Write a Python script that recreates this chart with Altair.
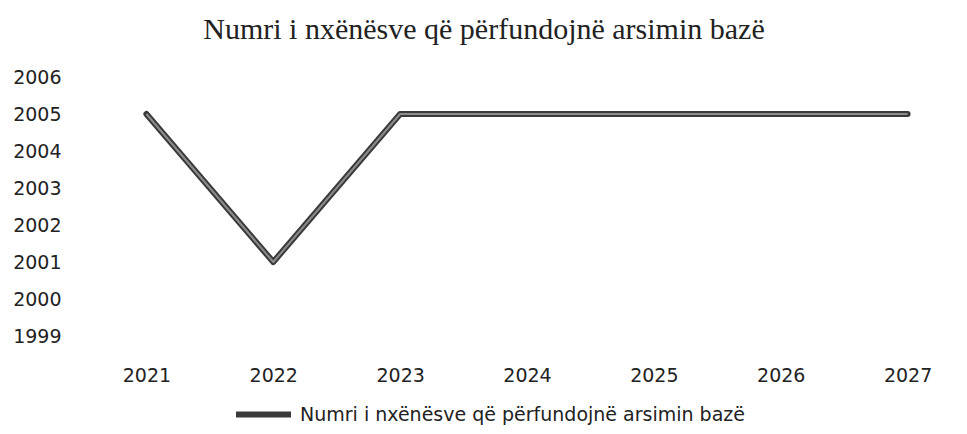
import altair as alt
import pandas as pd

years = ["2021", "2022", "2023", "2024", "2025", "2026", "2027"]
values = [2005, 2001, 2005, 2005, 2005, 2005, 2005]
series = "Numri i nxënësve që përfundojnë arsimin bazë"
title_text = "Numri i nxënësve që përfundojnë arsimin bazë"
y_ticks = [1999, 2000, 2001, 2002, 2003, 2004, 2005, 2006]

df = pd.DataFrame({"year": years, "value": values, "series": [series] * len(years)})

x_enc = alt.X(
    "year:O",
    sort=years,
    title=None,
    scale=alt.Scale(type="point", padding=0.35),
    axis=alt.Axis(labelAngle=0, domain=False, ticks=False, grid=False,
                  labelPadding=30, labelFontSize=19, labelFont="DejaVu Sans",
                  labelColor="#222222", labelOverlap=False),
)
y_enc = alt.Y(
    "value:Q",
    title=None,
    scale=alt.Scale(domain=[1999, 2006], nice=False, zero=False),
    axis=alt.Axis(values=y_ticks, format="d", domain=False, ticks=False, grid=False,
                  labelPadding=41, labelFontSize=19, labelFont="DejaVu Sans",
                  labelColor="#222222", labelOverlap=False, tickCount=8),
)

outer = alt.Chart(df).mark_line(strokeWidth=6, strokeCap="round", strokeJoin="round").encode(
    x=x_enc,
    y=y_enc,
    color=alt.Color(
        "series:N",
        scale=alt.Scale(range=["#3a3a3a"]),
        legend=alt.Legend(
            title=None, orient="none", legendX=131, legendY=307,
            symbolType="stroke", symbolSize=3025, symbolStrokeWidth=6,
            labelFontSize=19, labelFont="DejaVu Sans", labelColor="#222222",
            labelOffset=6, labelLimit=800, padding=0,
        ),
    ),
)
inner = alt.Chart(df).mark_line(strokeWidth=2, color="#8c8c8c", strokeJoin="round").encode(
    x=x_enc,
    y=y_enc,
)

chart = (
    alt.layer(outer, inner)
    .properties(
        width=850,
        height=259,
        autosize=alt.AutoSizeParams(type="none"),
        padding={"left": 94, "top": 69, "right": 6, "bottom": 90},
        title=alt.TitleParams(
            text=title_text, font="Liberation Serif", fontSize=30, fontWeight="normal",
            color="#222222", anchor="middle", baseline="alphabetic", offset=27, dx=-43,
            dy=28, frame="group",
        ),
    )
    .configure_view(stroke=None)
)

chart.save("out.html", embed_options={"renderer": "svg", "actions": False})
